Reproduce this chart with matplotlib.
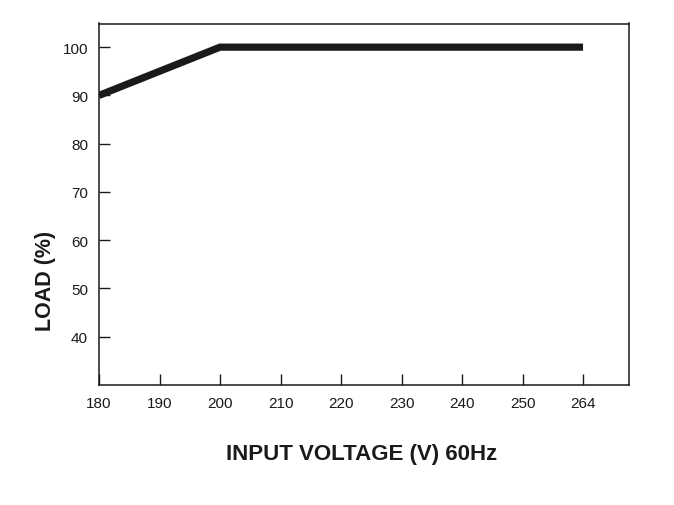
import numpy as np
import matplotlib
matplotlib.use("Agg")
import matplotlib.pyplot as plt
from matplotlib import font_manager

# Data
voltage = [180, 200, 264]
load = [90, 100, 100]
x_tick_labels = ["180", "190", "200", "210", "220", "230", "240", "250", "264"]
y_ticks = [40, 50, 60, 70, 80, 90, 100]

names = {f.name for f in font_manager.fontManager.ttflist}
narrow = "Liberation Sans Narrow" if "Liberation Sans Narrow" in names else "Liberation Sans"

fig = plt.figure(figsize=(6.74, 5.06), dpi=100)
ax = fig.add_axes([99/674, 1-386/506, 530/674, 361.5/506])

# Tick positions are evenly spaced slots; the last slot carries "264"
label_vals = [float(s) for s in x_tick_labels]
slot_pos = [180 + 10*i for i in range(len(x_tick_labels))]
xpos = np.interp(voltage, label_vals, slot_pos)

ax.plot(xpos, load, color="#1a1a1a", lw=5.2, solid_capstyle="butt", solid_joinstyle="miter")

ax.set_xlim(180, 267.6)
ax.set_ylim(30, 104.9)
ax.set_xticks(slot_pos)
ax.set_xticklabels(x_tick_labels)
ax.set_yticks(y_ticks)
ax.tick_params(direction="in", length=8, width=1.0, colors="#1a1a1a", labelsize=11, pad=8)
for lab in ax.get_xticklabels() + ax.get_yticklabels():
    lab.set_fontfamily("Liberation Sans")
    lab.set_color("#1a1a1a")
for s in ax.spines.values():
    s.set_linewidth(1.1)
    s.set_color("#1a1a1a")

fig.text(362/674, 1-455/506, "INPUT VOLTAGE (V) 60Hz", ha="center", va="center",
         fontsize=16, fontweight="bold", family=narrow, color="#1a1a1a")
fig.text(45/674, 1-281/506, "LOAD (%)", ha="center", va="center", rotation=90,
         fontsize=15.5, fontweight="bold", family=narrow, color="#1a1a1a")

fig.savefig("out.png", dpi=100)
